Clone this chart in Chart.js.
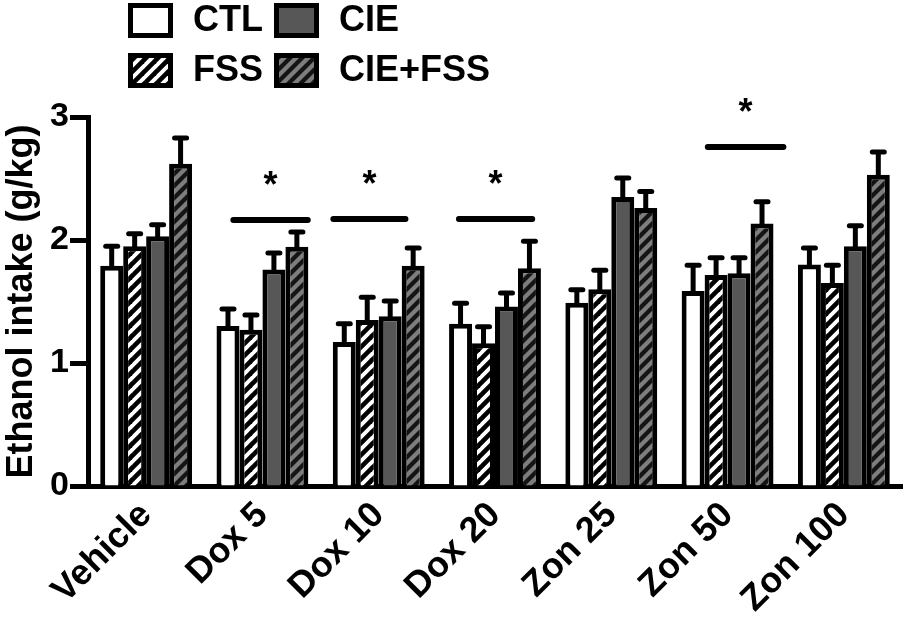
<!DOCTYPE html>
<html>
<head>
<meta charset="utf-8">
<script src="https://cdn.jsdelivr.net/npm/chart.js@4/dist/chart.umd.min.js"></script>
<style>
  html, body { margin: 0; padding: 0; background: #fff; }
  canvas { display: block; }
</style>
</head>
<body>
<canvas id="c" width="906" height="623"></canvas>
<script>
// ---- Data ----
const categories = ['Vehicle', 'Dox 5', 'Dox 10', 'Dox 20', 'Zon 25', 'Zon 50', 'Zon 100'];
const seriesNames = ['CTL', 'FSS', 'CIE', 'CIE+FSS'];
const ctlMean = [1.79, 1.30, 1.17, 1.32, 1.49, 1.585, 1.80];
const ctlSem  = [0.16, 0.14, 0.15, 0.165, 0.105, 0.21, 0.135];
const fssMean = [1.95, 1.27, 1.35, 1.16, 1.60, 1.715, 1.65];
const fssSem  = [0.10, 0.12, 0.185, 0.135, 0.155, 0.14, 0.145];
const cieMean = [2.03, 1.76, 1.38, 1.46, 2.35, 1.73, 1.95];
const cieSem  = [0.095, 0.135, 0.125, 0.11, 0.155, 0.125, 0.165];
const cieFssMean = [2.62, 1.945, 1.79, 1.77, 2.26, 2.135, 2.53];
const cieFssSem  = [0.21, 0.12, 0.145, 0.22, 0.135, 0.175, 0.185];
const yTicks = [0, 1, 2, 3];
const yTitle = 'Ethanol intake (g/kg)';
// significance bars: start/end as category positions, height in data units
const sigStart = [0.75, 1.61, 2.69, 4.83];
const sigEnd   = [1.39, 2.23, 3.32, 5.48];
const sigY     = [2.163, 2.171, 2.171, 2.756];
const sigLabel = ['*', '*', '*', '*'];

// ---- Styles ----
const FONT = "'Liberation Sans', Arial, Helvetica, sans-serif";
Chart.defaults.font.family = FONT;
Chart.defaults.color = '#000';

function hatch(bg, fg, lw) {
  const s = 12;
  const c = document.createElement('canvas');
  c.width = s; c.height = s;
  const g = c.getContext('2d');
  g.fillStyle = bg; g.fillRect(0, 0, s, s);
  g.strokeStyle = fg; g.lineWidth = lw; g.lineCap = 'square';
  for (const k of [-s, 0, s]) {
    g.beginPath(); g.moveTo(k, s); g.lineTo(k + s, 0); g.stroke();
  }
  return document.getElementById('c').getContext('2d').createPattern(c, 'repeat');
}
const fills = ['#ffffff', hatch('#ffffff', '#000000', 4.6), '#575757', hatch('#7d7d7d', '#141414', 4.2)];
const means = [ctlMean, fssMean, cieMean, cieFssMean];
const sems = [ctlSem, fssSem, cieSem, cieFssSem];

const errorBars = {
  id: 'errorBars',
  afterDatasetsDraw(chart) {
    const ctx = chart.ctx, y = chart.scales.y;
    ctx.save();
    ctx.strokeStyle = '#000';
    chart.data.datasets.forEach((ds, i) => {
      const meta = chart.getDatasetMeta(i);
      meta.data.forEach((bar, j) => {
        const top = y.getPixelForValue(ds.data[j] + ds.sem[j]);
        ctx.lineWidth = 5; ctx.lineCap = 'butt';
        ctx.beginPath(); ctx.moveTo(bar.x, bar.y + 2); ctx.lineTo(bar.x, top); ctx.stroke();
        ctx.lineCap = 'round';
        ctx.beginPath(); ctx.moveTo(bar.x - 6, top); ctx.lineTo(bar.x + 6, top); ctx.stroke();
      });
    });
    ctx.restore();
  }
};

const sigBars = {
  id: 'sigBars',
  afterDraw(chart) {
    const ctx = chart.ctx, x = chart.scales.x, y = chart.scales.y;
    ctx.save();
    ctx.strokeStyle = '#000'; ctx.fillStyle = '#000';
    ctx.lineWidth = 6; ctx.lineCap = 'round';
    const fs = 36;
    ctx.font = 'bold ' + fs + 'px ' + FONT;
    ctx.textAlign = 'center'; ctx.textBaseline = 'alphabetic';
    sigStart.forEach((s, i) => {
      const x0 = x.getPixelForValue(s), x1 = x.getPixelForValue(sigEnd[i]);
      const py = y.getPixelForValue(sigY[i]);
      ctx.beginPath(); ctx.moveTo(x0, py); ctx.lineTo(x1, py); ctx.stroke();
      ctx.fillText(sigLabel[i], (x0 + x1) / 2, py - 45 + 0.6 * fs);
    });
    ctx.restore();
  }
};

const legendPlugin = {
  id: 'customLegend',
  afterDraw(chart) {
    const ctx = chart.ctx;
    ctx.save();
    const pos = [[128, 3], [128, 53], [274, 3], [274, 53]]; // CTL, FSS, CIE, CIE+FSS
    const w = 45, h = 35;
    ctx.font = 'bold 36px ' + FONT;
    ctx.textAlign = 'left'; ctx.textBaseline = 'middle';
    chart.data.datasets.forEach((ds, i) => {
      const [bx, by] = pos[i];
      ctx.fillStyle = '#000'; ctx.fillRect(bx, by, w, h);
      ctx.fillStyle = ds.backgroundColor; ctx.fillRect(bx + 5, by + 5, w - 10, h - 10);
      ctx.fillStyle = '#000';
      ctx.fillText(ds.label, bx + 65, by + h / 2 + 1);
    });
    ctx.restore();
  }
};

new Chart(document.getElementById('c'), {
  type: 'bar',
  data: {
    labels: categories,
    datasets: seriesNames.map((n, i) => ({
      label: n,
      data: means[i],
      sem: sems[i],
      backgroundColor: fills[i],
      borderColor: '#000',
      borderWidth: 5,
      borderSkipped: 'bottom',
      categoryPercentage: 0.79,
      barPercentage: 1.0
    }))
  },
  options: {
    responsive: false,
    animation: false,
    devicePixelRatio: 1,
    layout: { padding: { left: 0, right: 4, top: 117, bottom: 0 } },
    plugins: { legend: { display: false }, tooltip: { enabled: false } },
    scales: {
      x: {
        grid: { display: false, drawTicks: false },
        border: { display: true, color: '#000', width: 5 },
        ticks: { maxRotation: 45, minRotation: 45, padding: 8, font: { size: 36, weight: 'bold' }, color: '#000' },
        afterFit(s) { s.height = 137; }
      },
      y: {
        min: 0, max: 3,
        afterBuildTicks(s) { s.ticks = yTicks.map(v => ({ value: v })); },
        grid: { display: true, drawOnChartArea: false, drawTicks: true, tickLength: 18, tickWidth: 5, tickColor: '#000' },
        border: { display: true, color: '#000', width: 5 },
        ticks: { padding: 1, font: { size: 34, weight: 'bold' }, color: '#000' },
        title: { display: true, text: yTitle, font: { size: 36, weight: 'bold' }, color: '#000', padding: 0 },
        afterFit(s) { s.width = 88; }
      }
    }
  },
  plugins: [errorBars, sigBars, legendPlugin]
});
</script>
</body>
</html>
